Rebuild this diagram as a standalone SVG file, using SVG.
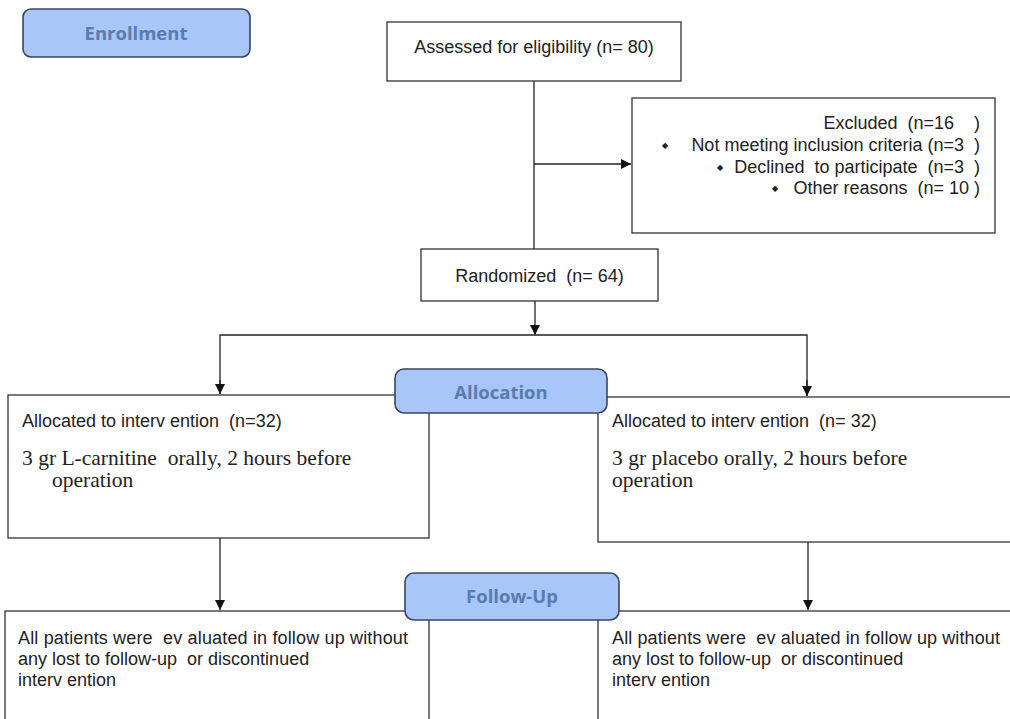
<svg xmlns="http://www.w3.org/2000/svg" width="1010" height="719" viewBox="0 0 1010 719">
<style>
.box{fill:#fff;stroke:#333;stroke-width:1.3}
.lbl{fill:#a8c6f7;stroke:#3b4560;stroke-width:1.6}
.lt{font-family:"Open Sans","Liberation Sans",sans-serif;font-weight:700;font-size:18.5px;fill:#5a7bb0;text-anchor:middle}
.t{font-family:"Liberation Sans",Arial,sans-serif;font-size:18px;fill:#222;white-space:pre}
.s{font-family:"Liberation Serif","Times New Roman",serif;font-size:21.5px;fill:#222;white-space:pre}
.b{font-family:"DejaVu Sans",sans-serif;font-size:8px;fill:#222}
.c{fill:none;stroke:#222;stroke-width:1.3}
</style>
<defs>
<marker id="ah" viewBox="0 0 10 10" refX="10" refY="5" markerWidth="10" markerHeight="10" markerUnits="userSpaceOnUse" orient="auto">
<path d="M0,0 L10,5 L0,10 z" fill="#111"/>
</marker>
</defs>
<g id="connectors">
<line class="c" x1="534" y1="81" x2="534" y2="249"/>
<line class="c" x1="534" y1="164" x2="631" y2="164" marker-end="url(#ah)"/>
<line class="c" x1="535" y1="301" x2="535" y2="335" marker-end="url(#ah)"/>
<polyline class="c" points="220,394 220,335 807,335 807,396"/>
<line class="c" x1="220" y1="380" x2="220" y2="394" marker-end="url(#ah)"/>
<line class="c" x1="807" y1="380" x2="807" y2="396" marker-end="url(#ah)"/>
<line class="c" x1="220" y1="538" x2="220" y2="610" marker-end="url(#ah)"/>
<line class="c" x1="808" y1="542" x2="808" y2="610" marker-end="url(#ah)"/>
</g>
<g id="assessed">
<rect class="box" x="387" y="22" width="294" height="59"/>
<text class="t" x="534" y="53" text-anchor="middle" font-size="18.5">Assessed for eligibility (n= 80)</text>
</g>
<g id="excluded">
<rect class="box" x="632" y="98" width="363" height="135"/>
<text class="t" x="980" y="129" text-anchor="end">Excluded  (n=16    )</text>
<text class="b" x="662" y="148">◆</text>
<text class="t" x="980" y="151" text-anchor="end">Not meeting inclusion criteria (n=3  )</text>
<text class="b" x="717" y="170">◆</text>
<text class="t" x="980" y="173" text-anchor="end">Declined  to participate  (n=3  )</text>
<text class="b" x="772" y="191">◆</text>
<text class="t" x="980" y="194" text-anchor="end">Other reasons  (n= 10 )</text>
</g>
<g id="randomized">
<rect class="box" x="421" y="249" width="237" height="52"/>
<text class="t" x="539.5" y="282" text-anchor="middle">Randomized  (n= 64)</text>
</g>
<g id="alloc-left">
<rect class="box" x="8" y="395" width="421" height="143"/>
<text class="t" x="22" y="427">Allocated to interv ention  (n=32)</text>
<text class="s" x="22" y="465">3 gr L-carnitine  orally, 2 hours before</text>
<text class="s" x="52" y="487">operation</text>
</g>
<g id="alloc-right">
<rect class="box" x="598" y="397" width="430" height="145"/>
<text class="t" x="612" y="427">Allocated to interv ention  (n= 32)</text>
<text class="s" x="612" y="465">3 gr placebo orally, 2 hours before</text>
<text class="s" x="612" y="487">operation</text>
</g>
<g id="follow-left">
<rect class="box" x="5" y="611" width="424" height="130"/>
<text class="t" x="18" y="644" textLength="390">All patients were  ev aluated in follow up without</text>
<text class="t" x="18" y="665">any lost to follow-up  or discontinued</text>
<text class="t" x="18" y="686">interv ention</text>
</g>
<g id="follow-right">
<rect class="box" x="598" y="611" width="430" height="130"/>
<text class="t" x="612" y="644" textLength="388">All patients were  ev aluated in follow up without</text>
<text class="t" x="612" y="665">any lost to follow-up  or discontinued</text>
<text class="t" x="612" y="686">interv ention</text>
</g>
<g id="enrollment">
<rect class="lbl" x="23" y="9" width="227" height="48" rx="8"/>
<text class="lt" x="136" y="40">Enrollment</text>
</g>
<g id="allocation">
<rect class="lbl" x="395" y="369" width="212" height="44" rx="9"/>
<text class="lt" x="501" y="399">Allocation</text>
</g>
<g id="followup">
<rect class="lbl" x="405" y="573" width="214" height="47" rx="9"/>
<text class="lt" x="512" y="603">Follow-Up</text>
</g>
</svg>
